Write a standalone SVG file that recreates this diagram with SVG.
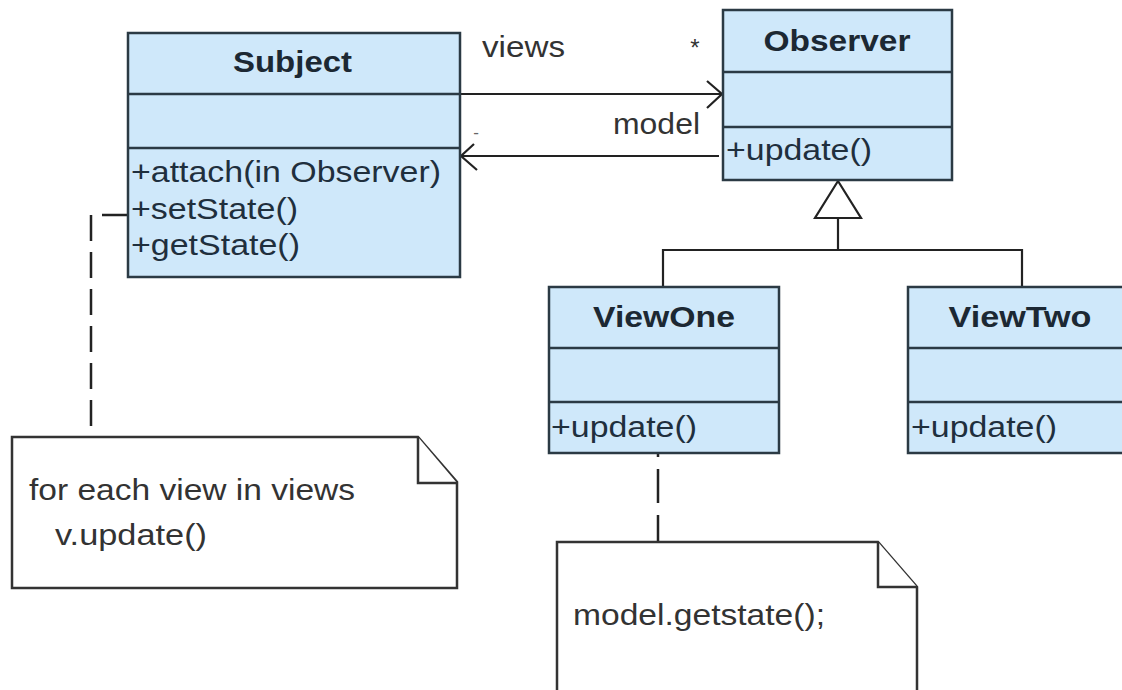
<svg xmlns="http://www.w3.org/2000/svg" width="1122" height="690" viewBox="0 0 1122 690">
<style>
  .box { fill: #cfe8fa; stroke: #2b3a44; stroke-width: 2.5; }
  .div { stroke: #2b3a44; stroke-width: 2.5; fill: none; }
  .title { font-family: "Liberation Sans", Arial, sans-serif; font-size: 29px; font-weight: bold; fill: #1c2833; text-anchor: middle; }
  .op { font-family: "Liberation Sans", Arial, sans-serif; font-size: 29px; fill: #1f2f3d; }
  .lbl { font-family: "Liberation Sans", Arial, sans-serif; font-size: 29px; fill: #333333; }
  .note { fill: #ffffff; stroke: #333333; stroke-width: 2.5; }
  .line { stroke: #222222; stroke-width: 2.2; fill: none; }
  .dash { stroke: #222222; stroke-width: 2.5; fill: none; stroke-dasharray: 26 11; }
</style>
<rect width="1122" height="690" fill="#ffffff"/>

<g id="connectors">
  <!-- views association -->
  <path class="line" d="M460,94 H722"/>
  <path class="line" d="M707,81 L722,94 L707,108"/>
  <!-- model association -->
  <path class="line" d="M719,156 H461"/>
  <path class="line" d="M474,144 L461,156 L477,170"/>
  <!-- generalization -->
  <path class="line" d="M663,287 V250 H1022 V287"/>
  <path class="line" d="M838,218 V250"/>
  <polygon points="838,181 815,218 861,218" fill="#ffffff" stroke="#222222" stroke-width="2.2"/>
  <!-- note anchors -->
  <path class="dash" d="M128,215 H91 V437"/>
  <path class="dash" d="M658,453 V542" style="stroke-dasharray:34 12;stroke-dashoffset:30"/>
  <text class="lbl" x="482" y="57" textLength="83" lengthAdjust="spacingAndGlyphs">views</text>
  <text class="lbl" x="695" y="56" text-anchor="middle" style="font-size:24px">*</text>
  <text class="lbl" x="613" y="134" textLength="87" lengthAdjust="spacingAndGlyphs">model</text>
  <text class="lbl" x="476" y="138" text-anchor="middle" style="font-size:17px;fill:#666666">-</text>
</g>

<g id="subject">
  <rect class="box" x="128" y="33" width="332" height="244"/>
  <path class="div" d="M128,94 H460 M128,148 H460"/>
  <text class="title" x="292.5" y="72" textLength="119" lengthAdjust="spacingAndGlyphs">Subject</text>
  <text class="op" x="131" y="182" textLength="310" lengthAdjust="spacingAndGlyphs">+attach(in Observer)</text>
  <text class="op" x="131" y="219" textLength="167" lengthAdjust="spacingAndGlyphs">+setState()</text>
  <text class="op" x="131" y="255" textLength="169" lengthAdjust="spacingAndGlyphs">+getState()</text>
</g>

<g id="observer">
  <rect class="box" x="723" y="10" width="229" height="170"/>
  <path class="div" d="M723,72 H952 M723,127 H952"/>
  <text class="title" x="837" y="51" textLength="147" lengthAdjust="spacingAndGlyphs">Observer</text>
  <text class="op" x="726" y="160" textLength="146" lengthAdjust="spacingAndGlyphs">+update()</text>
</g>

<g id="viewone">
  <rect class="box" x="549" y="287" width="230" height="166"/>
  <path class="div" d="M549,348 H779 M549,402 H779"/>
  <text class="title" x="664" y="327" textLength="142" lengthAdjust="spacingAndGlyphs">ViewOne</text>
  <text class="op" x="551" y="437" textLength="146" lengthAdjust="spacingAndGlyphs">+update()</text>
</g>

<g id="viewtwo">
  <rect class="box" x="908" y="287" width="224" height="166"/>
  <path class="div" d="M908,348 H1132 M908,402 H1132"/>
  <text class="title" x="1020" y="327" textLength="143" lengthAdjust="spacingAndGlyphs">ViewTwo</text>
  <text class="op" x="911" y="437" textLength="146" lengthAdjust="spacingAndGlyphs">+update()</text>
</g>

<g id="note1">
  <path class="note" d="M12,437 H418 L457,482 V588 H12 Z"/>
  <path class="note" d="M418,437 V483 H457" fill="none"/>
  <text class="lbl" x="29" y="500" textLength="326" lengthAdjust="spacingAndGlyphs">for each view in views</text>
  <text class="lbl" x="55" y="545" textLength="152" lengthAdjust="spacingAndGlyphs">v.update()</text>
</g>

<g id="note2">
  <path class="note" d="M557,542 H878 L917,587 V705 H557 Z"/>
  <path class="note" d="M878,542 V587 H917" fill="none"/>
  <text class="lbl" x="573" y="625" textLength="252" lengthAdjust="spacingAndGlyphs">model.getstate();</text>
</g>
</svg>
